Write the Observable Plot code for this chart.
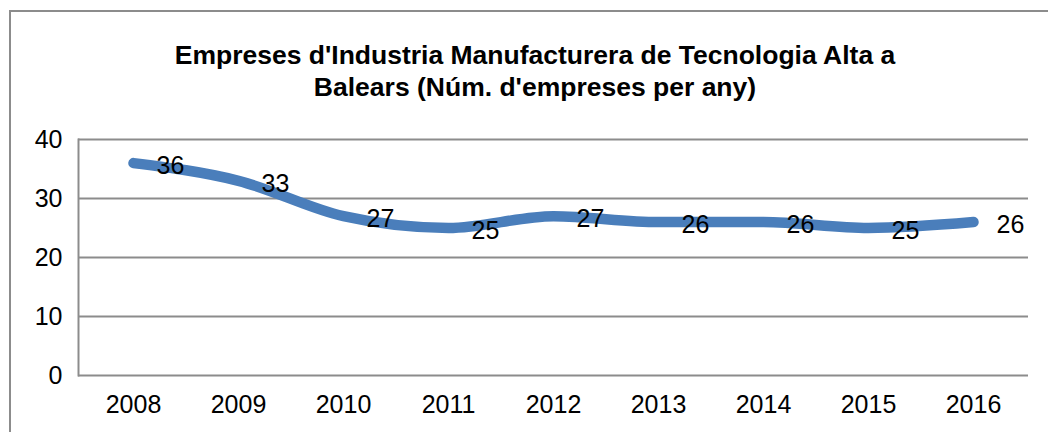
<!DOCTYPE html>
<html>
<head>
<meta charset="utf-8">
<script src="https://cdn.jsdelivr.net/npm/d3@7"></script>
<script src="https://cdn.jsdelivr.net/npm/@observablehq/plot@0.6"></script>
<style>
  html, body { margin: 0; padding: 0; background: #fff; overflow: hidden; width: 1048px; height: 432px; }
  #frame { position: absolute; left: 9px; top: 10px; width: 1060px; height: 440px; border-top: 2px solid #8c8c8c; border-left: 2px solid #8c8c8c; box-sizing: border-box; }
  #title { position: absolute; left: 22px; width: 1026px; top: 39px; text-align: center; font-family: "Liberation Sans", Arial, sans-serif; font-weight: bold; font-size: 26.5px; line-height: 32px; color: #000; }
  #chart { position: absolute; left: 0; top: 110px; }
</style>
</head>
<body>
<div id="frame"></div>
<div id="title">Empreses d'Industria Manufacturera de Tecnologia Alta a<br>Balears (Núm. d'empreses per any)</div>
<div id="chart"></div>
<script>
const years = ["2008", "2009", "2010", "2011", "2012", "2013", "2014", "2015", "2016"];
const companies = [36, 33, 27, 25, 27, 26, 26, 25, 26];
const yTicks = [0, 10, 20, 30, 40];

const data = years.map((y, i) => ({year: y, value: companies[i]}));
const gray = "#8c8c8c";

const plot = Plot.plot({
  width: 1048,
  height: 322,
  marginLeft: 78,
  marginRight: 20,
  marginTop: 29,
  marginBottom: 57,
  style: {fontFamily: "'Liberation Sans', Arial, sans-serif", fontSize: "25px", color: "#000", background: "transparent"},
  x: {type: "point", domain: years, padding: 0.5, label: null},
  y: {domain: [0, 40], ticks: yTicks, label: null},
  marks: [
    Plot.ruleY(yTicks, {stroke: gray, strokeWidth: 2}),
    Plot.frame({anchor: "left", stroke: gray, strokeWidth: 2}),
    Plot.axisX({tickSize: 0, tickPadding: 20, fontSize: 25, label: null}),
    Plot.axisY({ticks: yTicks, tickSize: 0, tickPadding: 16, fontSize: 25, label: null}),
    Plot.line(data, {x: "year", y: "value", stroke: "#4a7ebb", strokeWidth: 10.5, curve: "monotone-x", strokeLinecap: "round", strokeLinejoin: "round"}),
    Plot.text(data, {x: "year", y: "value", text: d => String(d.value), dx: 23, dy: 3, textAnchor: "start", fontSize: 25, fill: "#000"})
  ]
});
document.getElementById("chart").appendChild(plot);
</script>
</body>
</html>
